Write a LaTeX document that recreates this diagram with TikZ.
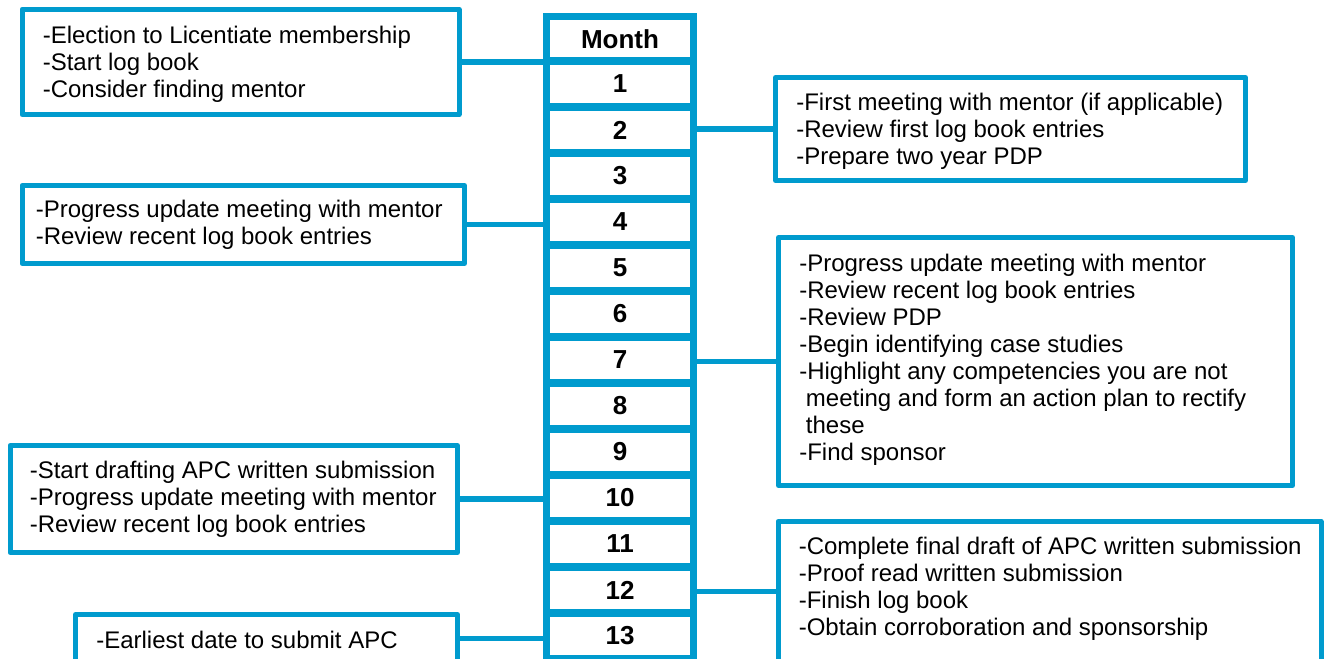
\documentclass[tikz,border=0pt]{standalone}
\usepackage{fontspec}
\setmainfont{Liberation Sans}
\definecolor{apcblue}{RGB}{0,155,206}

\begin{document}
\begin{tikzpicture}[x=0.75pt,y=-0.75pt,
  cell/.style={draw=apcblue, line width=5.6pt, minimum width=109.875pt,
    minimum height=34.5pt, inner sep=0pt,
    font=\fontsize{19.5pt}{22pt}\selectfont\bfseries},
  note/.style={draw=apcblue, line width=3.75pt, line join=round, inner sep=0pt},
  words/.style={anchor=west, align=left, inner sep=0pt,
    font=\fontsize{18pt}{20.25pt}\selectfont},
  link/.style={draw=apcblue, line width=4pt}]

\useasboundingbox (0,0) rectangle (1330,659);
\clip (0,0) rectangle (1330,659);

% month column
\node[cell, minimum height=33.1875pt] (m0) at (620,38.875) {Month};
\foreach \k in {1,...,13}
  \node[cell] (m\k) at (620,{84+46*(\k-1)}) {\k};

% frames of the notes, left side
\node[note, minimum width=327.75pt, minimum height=79.125pt] (b1) at (240.5,62) {};
\node[note, minimum width=331.875pt, minimum height=58.5pt] (b3) at (243.25,224.5) {};
\node[note, minimum width=335.625pt, minimum height=80.25pt] (b5) at (233.75,499) {};
\node[note, minimum width=286.5pt, minimum height=35.625pt] (b6) at (266.5,638.25) {};

% frames of the notes, right side
\node[note, minimum width=352.5pt, minimum height=77.25pt] (b2) at (1010.5,129) {};
\node[note, minimum width=385.5pt, minimum height=186pt] (b4) at (1035.5,361.5) {};
\node[note, minimum width=407.25pt, minimum height=105.375pt] (b7) at (1049.5,591.75) {};

% texts of the notes
\node[words] (t1) at ([xshift=17.25pt,yshift=-1.5pt]b1.west)
  {-Election to Licentiate membership\\-Start log book\\-Consider finding mentor};
\node[words] (t3) at ([xshift=12pt]b3.west)
  {-Progress update meeting with mentor\\-Review recent log book entries};
\node[words] (t5) at ([xshift=16.5pt]b5.west)
  {-Start drafting APC written submission\\-Progress update meeting with mentor\\-Review recent log book entries};
\node[words] (t6) at ([xshift=17.25pt,yshift=-1pt]b6.west)
  {-Earliest date to submit APC};
\node[words] (t2) at ([xshift=17.25pt,yshift=-2pt]b2.west)
  {-First meeting with mentor (if applicable)\\-Review first log book entries\\-Prepare two year PDP};
\node[words] (t4) at ([xshift=17.25pt,yshift=1.5pt]b4.west)
  {-Progress update meeting with mentor\\-Review recent log book entries\\-Review PDP\\-Begin identifying case studies\\-Highlight any competencies you are not\\\hspace*{0.278em}meeting and form an action plan to rectify\\\hspace*{0.278em}these\\-Find sponsor};
\node[words] (t7) at ([xshift=17.25pt,yshift=2pt]b7.west)
  {-Complete final draft of APC written submission\\-Proof read written submission\\-Finish log book\\-Obtain corroboration and sponsorship};

% connectors
\draw[link] (b1.east) -- (b1.east -| m0.west);
\draw[link] (b3.east) -- (b3.east -| m4.west);
\draw[link] (b5.east) -- (b5.east -| m10.west);
\draw[link] (b6.east) -- (b6.east -| m13.west);
\draw[link] (b2.west) -- (b2.west -| m2.east);
\draw[link] (b4.west) -- (b4.west -| m7.east);
\draw[link] (b7.west) -- (b7.west -| m12.east);
\end{tikzpicture}
\end{document}
